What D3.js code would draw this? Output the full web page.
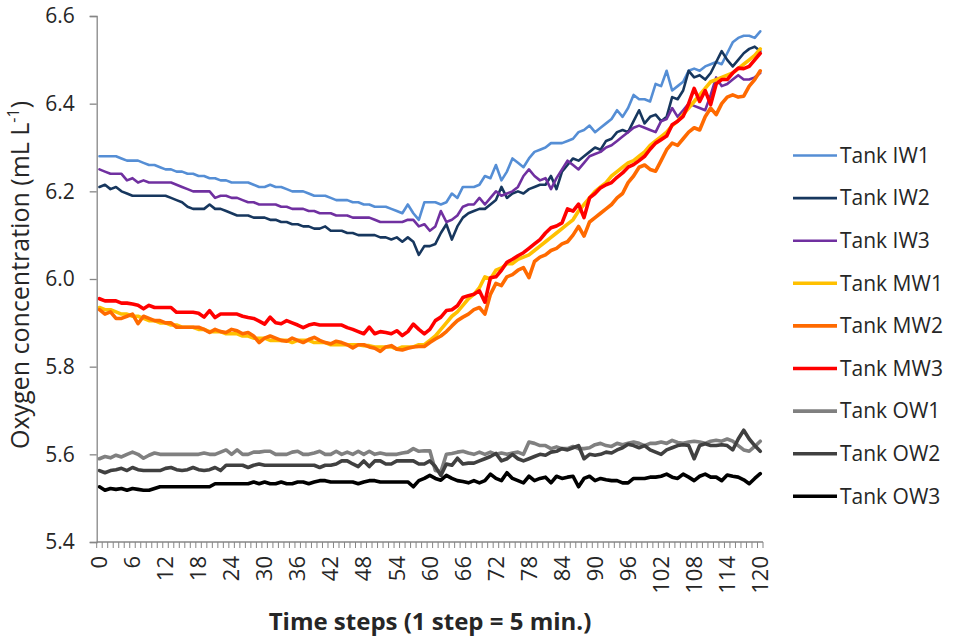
<!DOCTYPE html>
<html><head><meta charset="utf-8">
<script src="https://cdn.jsdelivr.net/npm/d3@7"></script>
<style>body{margin:0;background:#fff}svg{display:block}text{font-family:"Open Sans",sans-serif;fill:#262626}</style>
</head><body><svg id="c" width="957" height="642"></svg>
<script>
const steps = d3.range(0, 121);
const tickLabels = d3.range(0, 121, 6);
const seriesNames = ["Tank IW1","Tank IW2","Tank IW3","Tank MW1","Tank MW2","Tank MW3","Tank OW1","Tank OW2","Tank OW3"];
const yTicks = [5.4,5.6,5.8,6.0,6.2,6.4,6.6];

const IW1 = [6.28,6.28,6.28,6.28,6.275,6.27,
6.27,6.27,6.265,6.26,6.26,6.255,6.25,6.25,6.245,6.245,
6.24,6.24,6.235,6.235,6.23,6.23,6.225,6.225,6.22,6.22,
6.22,6.22,6.215,6.21,6.21,6.215,6.21,6.21,6.205,6.2,
6.2,6.2,6.195,6.19,6.19,6.19,6.185,6.18,6.18,6.18,
6.175,6.175,6.17,6.17,6.165,6.165,6.165,6.16,6.155,6.15,
6.17,6.15,6.135,6.175,6.175,
6.175,6.17,6.175,6.195,6.185,6.21,6.21,6.21,6.215,6.235,
6.23,6.26,6.225,6.245,6.275,6.265,6.255,6.275,6.29,6.295,
6.3,6.31,6.31,6.31,6.315,6.32,6.335,6.34,6.35,6.335,
6.345,6.355,6.365,6.385,6.37,6.39,6.42,6.41,6.41,6.405,
6.445,6.44,6.475,6.43,6.44,6.45,6.475,6.48,6.475,6.485,
6.49,6.495,6.49,6.515,6.54,6.55,6.555,6.555,6.55,6.565];

const IW2 = [6.21,6.215,6.205,6.21,6.2,6.195,
6.19,6.19,6.19,6.19,6.19,6.19,6.19,6.185,6.18,6.175,
6.165,6.16,6.16,6.16,6.17,6.16,6.16,6.155,6.15,6.145,
6.145,6.145,6.14,6.14,6.14,6.135,6.135,6.13,6.13,6.125,
6.125,6.12,6.12,6.115,6.115,6.12,6.11,6.11,6.11,6.105,
6.105,6.1,6.1,6.1,6.1,6.095,6.095,6.09,6.095,6.085,
6.095,6.085,6.055,6.075,6.075,
6.08,6.105,6.125,6.09,6.12,6.14,6.15,6.155,6.16,6.16,
6.17,6.18,6.21,6.185,6.195,6.2,6.195,6.205,6.21,6.215,
6.215,6.235,6.205,6.245,6.26,6.275,6.27,6.28,6.29,6.3,
6.295,6.315,6.32,6.335,6.34,6.335,6.36,6.385,6.355,6.37,
6.375,6.36,6.37,6.415,6.41,6.43,6.475,6.46,6.465,6.455,
6.47,6.495,6.52,6.5,6.485,6.5,6.515,6.525,6.53,6.52];

const IW3 = [6.25,6.245,6.24,6.24,6.24,6.225,
6.23,6.22,6.225,6.22,6.22,6.22,6.22,6.22,6.215,6.21,
6.205,6.2,6.2,6.2,6.2,6.185,6.19,6.19,6.185,6.185,
6.18,6.175,6.175,6.17,6.17,6.17,6.17,6.165,6.165,6.16,
6.16,6.16,6.155,6.155,6.15,6.15,6.15,6.145,6.145,6.145,
6.14,6.14,6.14,6.14,6.135,6.13,6.13,6.13,6.13,6.13,
6.135,6.135,6.12,6.125,6.11,
6.12,6.155,6.13,6.135,6.145,6.165,6.17,6.17,6.185,6.17,
6.185,6.2,6.19,6.195,6.2,6.21,6.235,6.25,6.235,6.225,
6.23,6.205,6.23,6.25,6.27,6.26,6.25,6.265,6.28,6.285,
6.29,6.3,6.305,6.315,6.325,6.335,6.345,6.35,6.345,6.34,
6.335,6.36,6.365,6.39,6.37,6.385,6.4,6.395,6.39,6.385,
6.42,6.46,6.44,6.445,6.455,6.465,6.455,6.455,6.46,6.47];

const MW1 = [5.935,5.93,5.93,5.925,5.92,5.92,
5.915,5.915,5.91,5.905,5.905,5.9,5.9,5.895,5.895,5.89,
5.89,5.89,5.885,5.885,5.88,5.88,5.88,5.875,5.875,5.875,
5.87,5.87,5.865,5.865,5.865,5.86,5.86,5.86,5.86,5.855,
5.86,5.86,5.86,5.855,5.855,5.855,5.85,5.85,5.85,5.85,
5.85,5.85,5.848,5.848,5.845,5.845,5.845,5.845,5.84,5.845,
5.845,5.845,5.85,5.85,5.86,
5.87,5.885,5.9,5.915,5.925,5.94,5.955,5.965,5.98,6.005,
6.0,6.02,6.025,6.035,6.035,6.045,6.05,6.055,6.065,6.075,
6.085,6.095,6.105,6.115,6.125,6.135,6.155,6.17,6.185,6.2,
6.21,6.22,6.235,6.245,6.255,6.265,6.27,6.28,6.29,6.305,
6.315,6.325,6.335,6.35,6.36,6.375,6.39,6.405,6.42,6.435,
6.45,6.455,6.46,6.465,6.47,6.48,6.49,6.5,6.51,6.525];

const MW2 = [5.93,5.92,5.925,5.91,5.91,5.915,
5.92,5.898,5.915,5.91,5.905,5.905,5.9,5.9,5.89,5.89,
5.89,5.89,5.89,5.885,5.878,5.885,5.88,5.878,5.885,5.882,
5.875,5.878,5.87,5.855,5.865,5.87,5.865,5.86,5.858,5.865,
5.86,5.855,5.862,5.867,5.86,5.855,5.852,5.858,5.855,5.85,
5.843,5.85,5.85,5.845,5.842,5.835,5.845,5.848,5.84,5.838,
5.842,5.845,5.846,5.846,5.855,
5.863,5.87,5.88,5.893,5.905,5.913,5.92,5.93,5.935,5.92,
5.965,5.99,5.985,6.005,6.01,6.02,6.026,6.003,6.04,6.05,
6.055,6.065,6.07,6.08,6.085,6.1,6.12,6.098,6.13,6.14,
6.15,6.16,6.17,6.185,6.195,6.22,6.235,6.255,6.26,6.25,
6.246,6.27,6.295,6.31,6.305,6.32,6.335,6.345,6.34,6.37,
6.39,6.375,6.4,6.415,6.42,6.415,6.417,6.44,6.455,6.475];

const MW3 = [5.955,5.95,5.95,5.95,5.945,5.945,
5.943,5.94,5.932,5.94,5.935,5.935,5.935,5.935,5.924,5.924,
5.924,5.924,5.922,5.913,5.928,5.912,5.92,5.92,5.92,5.92,
5.915,5.912,5.91,5.904,5.897,5.913,5.9,5.898,5.905,5.9,
5.895,5.889,5.895,5.898,5.895,5.895,5.895,5.895,5.895,5.889,
5.885,5.88,5.875,5.89,5.875,5.88,5.878,5.875,5.882,5.871,
5.88,5.897,5.885,5.875,5.885,
5.905,5.913,5.928,5.93,5.939,5.958,5.962,5.965,5.973,5.947,
6.003,6.005,6.02,6.038,6.045,6.053,6.06,6.07,6.08,6.09,
6.105,6.117,6.121,6.128,6.16,6.155,6.171,6.14,6.185,6.195,
6.208,6.215,6.22,6.232,6.242,6.255,6.261,6.27,6.28,6.296,
6.31,6.318,6.326,6.352,6.36,6.371,6.4,6.435,6.405,6.43,
6.398,6.445,6.455,6.455,6.47,6.481,6.48,6.485,6.5,6.515];

const OW1 = [5.59,5.595,5.592,5.598,5.594,5.6,
5.605,5.6,5.591,5.598,5.603,5.6,5.6,5.6,5.6,5.6,
5.6,5.6,5.6,5.603,5.6,5.6,5.605,5.61,5.6,5.61,
5.6,5.6,5.605,5.605,5.607,5.607,5.6,5.6,5.6,5.605,
5.607,5.6,5.6,5.603,5.607,5.6,5.6,5.607,5.6,5.605,
5.6,5.607,5.6,5.607,5.6,5.603,5.6,5.6,5.6,5.603,
5.605,5.613,5.607,5.608,5.608,
5.563,5.56,5.6,5.602,5.605,5.607,5.603,5.6,5.605,5.6,
5.605,5.6,5.603,5.6,5.603,5.605,5.6,5.628,5.625,5.62,
5.62,5.613,5.617,5.613,5.613,5.618,5.613,5.613,5.615,5.622,
5.625,5.62,5.618,5.625,5.622,5.625,5.628,5.625,5.62,5.625,
5.625,5.628,5.625,5.632,5.627,5.625,5.628,5.63,5.628,5.625,
5.63,5.632,5.63,5.635,5.63,5.62,5.61,5.607,5.618,5.63];

const OW2 = [5.563,5.558,5.563,5.565,5.568,5.563,
5.57,5.565,5.563,5.563,5.563,5.563,5.568,5.57,5.565,5.563,
5.565,5.57,5.565,5.563,5.565,5.57,5.563,5.575,5.575,5.575,
5.575,5.57,5.575,5.578,5.575,5.575,5.575,5.575,5.575,5.575,
5.575,5.575,5.575,5.575,5.57,5.575,5.575,5.578,5.585,5.585,
5.578,5.572,5.585,5.572,5.585,5.585,5.578,5.578,5.585,5.585,
5.585,5.585,5.578,5.578,5.585,
5.572,5.552,5.578,5.575,5.591,5.578,5.58,5.58,5.585,5.59,
5.595,5.602,5.585,5.59,5.6,5.59,5.585,5.59,5.595,5.6,
5.598,5.605,5.607,5.613,5.61,5.615,5.62,5.59,5.6,5.598,
5.6,5.605,5.603,5.61,5.615,5.623,5.62,5.615,5.62,5.61,
5.605,5.6,5.61,5.615,5.62,5.622,5.62,5.59,5.62,5.624,
5.62,5.62,5.622,5.62,5.61,5.635,5.655,5.635,5.62,5.607];

const OW3 = [5.526,5.518,5.522,5.52,5.522,5.518,
5.522,5.52,5.518,5.518,5.522,5.526,5.526,5.526,5.526,5.526,
5.526,5.526,5.526,5.526,5.526,5.533,5.533,5.533,5.533,5.533,
5.533,5.533,5.537,5.533,5.537,5.533,5.533,5.537,5.533,5.533,
5.537,5.537,5.533,5.537,5.54,5.54,5.537,5.537,5.537,5.537,
5.537,5.533,5.537,5.54,5.54,5.537,5.537,5.537,5.537,5.537,
5.537,5.526,5.54,5.545,5.552,
5.545,5.541,5.552,5.545,5.54,5.538,5.535,5.54,5.535,5.54,
5.555,5.545,5.54,5.558,5.545,5.54,5.535,5.55,5.54,5.545,
5.548,5.535,5.55,5.545,5.548,5.55,5.526,5.545,5.55,5.54,
5.545,5.542,5.54,5.54,5.535,5.535,5.545,5.545,5.545,5.548,
5.548,5.55,5.555,5.548,5.545,5.555,5.548,5.54,5.55,5.555,
5.548,5.548,5.54,5.553,5.55,5.548,5.542,5.533,5.545,5.556];

const seriesValues = [IW1, IW2, IW3, MW1, MW2, MW3, OW1, OW2, OW3];
const seriesColors = ["#558ED5","#17375E","#7030A0","#FFC000","#FF6A00","#FF0000","#808080","#404040","#000000"];
const seriesWidths = [2.6,2.6,2.6,3.6,3.6,3.6,3.6,3.6,3.6];

const svg = d3.select("#c");
const L = 96.7, R = 763, T = 16, B = 542;
const x = d3.scalePoint().domain(steps).range([L, R]).padding(0.5);
const band = d3.scaleBand().domain(steps).range([L, R]);
const y = d3.scaleLinear().domain([5.4, 6.6]).range([B, T]);
const axisColor = "#868686";

// series lines
const line = d3.line().x((d, i) => x(steps[i])).y(d => y(d));
seriesValues.forEach((vals, k) => {
  svg.append("path").datum(vals)
    .attr("d", line)
    .attr("fill", "none")
    .attr("stroke", seriesColors[k])
    .attr("stroke-width", seriesWidths[k])
    .attr("stroke-linejoin", "round")
    .attr("stroke-linecap", "round");
});

// y axis
const yAxis = d3.axisLeft(y).tickValues(yTicks).tickSize(7).tickFormat(d3.format(".1f"));
const gy = svg.append("g").attr("transform", `translate(${L},0)`).call(yAxis);
gy.select(".domain").attr("stroke", axisColor).attr("stroke-width", 1.3);
gy.selectAll(".tick line").attr("stroke", axisColor).attr("stroke-width", 1.3);
gy.selectAll(".tick text").attr("x", -22).attr("font-size", 21).attr("fill", "#262626")
  .style("font-family", "'Open Sans', sans-serif");

// x axis line and boundary ticks
const gx = svg.append("g");
gx.append("line").attr("x1", L).attr("x2", R).attr("y1", B).attr("y2", B)
  .attr("stroke", axisColor).attr("stroke-width", 1.3);
const bounds = steps.map(s => band(s)).concat([band(steps[steps.length - 1]) + band.bandwidth()]);
gx.selectAll("line.tk").data(bounds).enter().append("line").attr("class", "tk")
  .attr("x1", d => d).attr("x2", d => d).attr("y1", B).attr("y2", B + 6)
  .attr("stroke", axisColor).attr("stroke-width", 1);
gx.selectAll("text.xl").data(tickLabels).enter().append("text").attr("class", "xl")
  .attr("transform", d => `translate(${x(d)},${B + 14}) rotate(-90)`)
  .attr("text-anchor", "end").attr("dy", "0.35em").attr("font-size", 22)
  .text(d => d);

// axis titles
const yt = svg.append("text").attr("transform", "translate(29,275) rotate(-90)")
  .attr("text-anchor", "middle").attr("font-size", 25);
yt.append("tspan").text("Oxygen concentration (mL L");
yt.append("tspan").attr("font-size", 16).attr("dy", -10).text("-1");
yt.append("tspan").attr("dy", 10).text(")");

svg.append("text").attr("x", 430).attr("y", 630).attr("text-anchor", "middle")
  .attr("font-size", 24).attr("font-weight", "bold").text("Time steps (1 step = 5 min.)");

// legend
const lg = svg.append("g");
seriesNames.forEach((n, k) => {
  const yy = 155.5 + k * 42.6;
  lg.append("line").attr("x1", 793).attr("x2", 837).attr("y1", yy).attr("y2", yy)
    .attr("stroke", seriesColors[k]).attr("stroke-width", seriesWidths[k]);
  lg.append("text").attr("x", 840).attr("y", yy).attr("dy", "0.35em").attr("font-size", 21).text(n);
});
</script></body></html>
